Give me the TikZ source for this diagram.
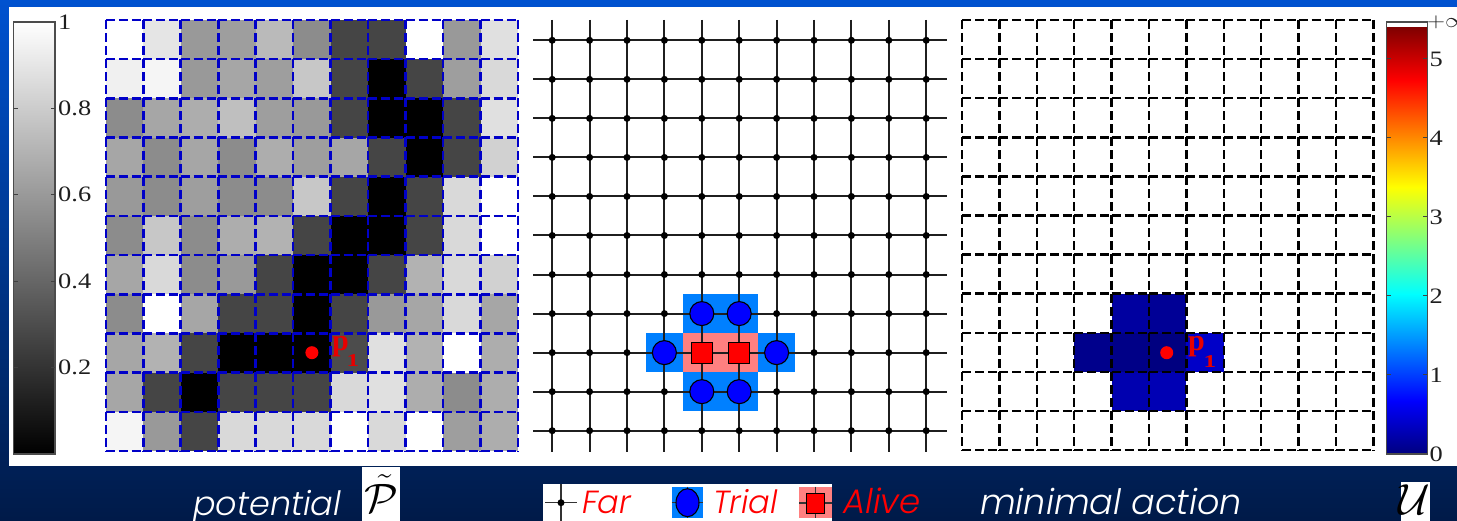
\documentclass[tikz,border=0pt]{standalone}
\usepackage{fontspec}
\usepackage{graphicx}
\usetikzlibrary{shapes.geometric}
\setmainfont{Liberation Serif}
\newfontfamily\capfont{Poppins Light Italic}
\definecolor{gridblue}{RGB}{0,0,200}
\definecolor{trialbg}{RGB}{0,128,255}
\definecolor{alivebg}{RGB}{255,128,128}
\definecolor{bgtop}{RGB}{0,82,208}
\definecolor{bgbot}{RGB}{0,26,72}
\definecolor{lbl}{RGB}{30,30,30}
\definecolor{pred}{RGB}{230,0,0}
\definecolor{jetA}{rgb}{0,0,0.5}
\definecolor{jetB}{rgb}{0,0,1}
\definecolor{jetC}{rgb}{0,1,1}
\definecolor{jetD}{rgb}{1,1,0}
\definecolor{jetE}{rgb}{1,0,0}
\definecolor{jetF}{rgb}{0.5,0,0}
\newcommand\sx[1]{\scalebox{1.2}[1]{#1}}
\newcommand\subsx[1]{\scalebox{1.4}[1]{#1}}
\begin{document}
\begin{tikzpicture}[x=1pt,y=-1pt,
  bluedash/.style={draw=gridblue,line width=2.6pt,dash pattern=on 9pt off 4pt},
  blackdash/.style={draw=black,line width=2.5pt,dash pattern=on 9pt off 4pt},
  gline/.style={draw=black!88,line width=2pt},
  fardot/.style={circle,fill=black,inner sep=0pt,minimum size=7pt},
  trialnode/.style={circle,draw=black,line width=1.1pt,fill=blue,inner sep=0pt,minimum size=24pt},
  alivenode/.style={rectangle,draw=black,line width=1.1pt,fill=red,inner sep=0pt,minimum size=21pt},
  ticklbl/.style={anchor=west,inner sep=0pt,text=lbl,font=\fontsize{22}{22}\selectfont},
  barframe/.style={draw=black!70,line width=1.5pt},
  bartick/.style={draw=black!75,line width=1pt},
  plbl/.style={anchor=base west,inner sep=0pt,text=pred,font=\fontsize{30}{30}\selectfont\bfseries},
  psub/.style={anchor=base west,inner sep=0pt,text=pred,font=\fontsize{18}{18}\selectfont\bfseries},
  reddot/.style={circle,fill=red,inner sep=0pt,minimum size=13pt},
  captxt/.style={anchor=base west,inner sep=0pt,font=\capfont\fontsize{32}{32}\selectfont},
  iconline/.style={draw=black!80,line width=1.3pt}]
\useasboundingbox (0,0) rectangle (1457,521);
% background
\shade[top color=bgtop,bottom color=bgbot] (0,0) rectangle (1457,521);
\fill[white] (9,7) rectangle (1457,466);

% ---------- left gray colorbar
\shade[top color=white,bottom color=black] (13.5,22) rectangle (54.8,454);
\draw[barframe] (13.5,22) rectangle (54.8,454);
\foreach \v in {0.2,0.4,0.6,0.8}{
  \draw[bartick] (13.5,454-432*\v) -- ++(4,0);
  \draw[bartick] (54.8,454-432*\v) -- ++(-4,0);
}
\foreach \v/\t in {1/1,0.8/0.8,0.6/0.6,0.4/0.4,0.2/0.2}{
  \node[ticklbl] (gl\t) at (58,454-432*\v) {\sx{\t}};
}

% ---------- left potential grid
\foreach \rowvals [count=\r from 0] in {
 {100,90,60,62,73,55,27,27,100,60,88},
 {94,96,60,65,62,78,27,0,27,62,85},
 {55,65,68,75,62,60,27,0,0,27,88},
 {65,55,65,55,68,62,65,27,0,27,82},
 {60,55,62,55,55,78,27,0,27,85,100},
 {55,78,55,68,70,27,0,0,27,85,100},
 {65,85,55,60,27,0,0,27,70,85,82},
 {55,100,65,27,27,0,27,60,65,85,65},
 {65,70,27,0,0,0,30,88,70,100,68},
 {65,27,0,27,27,27,85,88,68,55,68},
 {96,60,27,85,85,85,100,85,100,62,68}}{
  \foreach \v [count=\c from 0] in \rowvals{
    \fill[white!\v!black] (105.8+37.47*\c,20+39.18*\r) rectangle ++(37.47,39.18);
  }
}
\foreach \c in {0,...,10}{\foreach \r in {0,...,11}{
  \draw[bluedash] (105.8+37.47*\c,20+39.18*\r) -- ++(37.47,0);}}
\foreach \c in {0,...,11}{\foreach \r in {0,...,10}{
  \draw[bluedash] (105.8+37.47*\c,20+39.18*\r) -- ++(0,39.18);}}
\node[reddot] (dotL) at (311.9,352.7) {};
\node[plbl] (pL) at (332,351) {p};
\node[psub] (pLs) at (346.5,366.5) {\subsx{1}};

% ---------- middle grid (Far / Trial / Alive)
\fill[trialbg] (683.1,294.1) rectangle (757.9,333.1);
\fill[trialbg] (645.7,333.1) rectangle (795.3,372.1);
\fill[trialbg] (683.1,372.1) rectangle (757.9,411.2);
\fill[alivebg] (683.1,333.1) rectangle (757.9,372.1);
\foreach \j in {0,...,10}{
  \coordinate (hl\j) at (533,40.3+39.04*\j);
  \coordinate (hr\j) at (947,40.3+39.04*\j);
  \draw[gline] (hl\j) -- (hr\j);
}
\foreach \i in {0,...,10}{
  \coordinate (vt\i) at (552.2+37.4*\i,20);
  \coordinate (vb\i) at (552.2+37.4*\i,452);
  \draw[gline] (vt\i) -- (vb\i);
}
\foreach \i in {0,...,10}{\foreach \j in {0,...,10}{
  \node[fardot] (n-\i-\j) at (552.2+37.4*\i,40.3+39.04*\j) {};}}
\foreach \i/\j in {4/7,5/7,3/8,6/8,4/9,5/9}{
  \node[trialnode] (t-\i-\j) at (n-\i-\j) {};}
\foreach \i/\j in {4/8,5/8}{
  \node[alivenode] (a-\i-\j) at (n-\i-\j) {};}

% ---------- right minimal action grid
\foreach \c/\r/\b in {4/7/160,5/7/150,3/8/140,4/8/135,5/8/128,6/8/200,4/9/175,5/9/180}{
  \definecolor{cellc}{RGB}{0,0,\b}
  \fill[cellc] (962+37.4*\c,20+39.1*\r) rectangle ++(37.4,39.1);
}
\foreach \c in {0,...,10}{\foreach \r in {0,...,11}{
  \draw[blackdash] (962+37.4*\c,20+39.1*\r) -- ++(37.4,0);}}
\foreach \c in {0,...,11}{\foreach \r in {0,...,10}{
  \draw[blackdash] (962+37.4*\c,20+39.1*\r) -- ++(0,39.1);}}
\node[reddot] (dotR) at (1166.7,352.7) {};
\node[plbl] (pR) at (1188,351) {p};
\node[psub] (pRs) at (1203.5,367) {\subsx{1}};

% ---------- jet colorbar
\fill[white] (1386.7,22) rectangle (1427.3,27.4);
\shade[bottom color=jetA,top color=jetB] (1386.7,454) rectangle (1427.3,400.4);
\shade[bottom color=jetB,top color=jetC] (1386.7,400.8) rectangle (1427.3,293.7);
\shade[bottom color=jetC,top color=jetD] (1386.7,294.1) rectangle (1427.3,186.9);
\shade[bottom color=jetD,top color=jetE] (1386.7,187.3) rectangle (1427.3,80.2);
\shade[bottom color=jetE,top color=jetF] (1386.7,80.6) rectangle (1427.3,27.2);
\draw[barframe] (1386.7,22) rectangle (1427.3,454);
\foreach \v in {1,...,5}{
  \draw[bartick] (1386.7,454-79*\v) -- ++(4,0);
  \draw[bartick] (1427.3,454-79*\v) -- ++(-4,0);
}
\foreach \v in {0,...,5}{
  \node[ticklbl] (jl\v) at (1429.5,454-79*\v) {\sx{\v}};
}
\node[ticklbl] (jlinf) at (1427,22) {\sx{$+\infty$}};

% ---------- caption band
\node[captxt,text=white,font=\capfont\fontsize{33.5}{33.5}\selectfont] (cap1) at (193,515) {potential};
\fill[white] (362,467) rectangle (400,521);
\node[inner sep=0pt] (ptil) at (381,493.5) {\fontsize{24.88}{24.88}\selectfont\scalebox{1.75}[1.65]{$\tilde{\mathcal{P}}$}};

\fill[white] (543,484) rectangle (832,521);
% far icon
\coordinate (fW) at (545,502.7); \coordinate (fE) at (577,502.7);
\coordinate (fN) at (561,484); \coordinate (fS) at (561,521);
\draw[iconline] (fW) -- (fE);
\draw[iconline] (fN) -- (fS);
\node[fardot] (fdot) at (561,502.7) {};
\node[captxt,text=red] (far) at (582,513.3) {Far};
% trial icon
\fill[trialbg] (671.7,486.7) rectangle (703.3,518.3);
\coordinate (tW) at (671.7,502.7); \coordinate (tE) at (703.3,502.7);
\coordinate (tN) at (687.5,486.7); \coordinate (tS) at (687.5,518.3);
\draw[iconline] (tW) -- (tE);
\draw[iconline] (tN) -- (tS);
\node[ellipse,draw=black,line width=1.1pt,fill=blue,inner sep=0pt,minimum width=23pt,minimum height=28pt] (tic) at (687.5,502.7) {};
\node[captxt,text=red] (trial) at (713,513.3) {Trial};
% alive icon
\fill[alivebg] (799.3,486.7) rectangle (831.7,518.3);
\coordinate (aW) at (799.3,503) ; \coordinate (aE) at (831.7,503);
\coordinate (aN) at (815.6,486.7); \coordinate (aS) at (815.6,518.3);
\draw[iconline] (aW) -- (aE);
\draw[iconline] (aN) -- (aS);
\node[rectangle,draw=black,line width=1.1pt,fill=red,inner sep=0pt,minimum width=18pt,minimum height=20pt] (aic) at (815.6,503.3) {};
\node[captxt,text=red,font=\capfont\fontsize{34}{34}\selectfont] (alive) at (843,513.3) {Alive};

\node[captxt,text=white,font=\capfont\fontsize{35}{35}\selectfont] (cap2) at (980,514.5) {minimal action};
\fill[white] (1401,482) rectangle (1430,521);
\node[inner sep=0pt] (ucal) at (1414.5,500) {\fontsize{24.88}{24.88}\selectfont\scalebox{1.75}{$\mathcal{U}$}};
\end{tikzpicture}
\end{document}
